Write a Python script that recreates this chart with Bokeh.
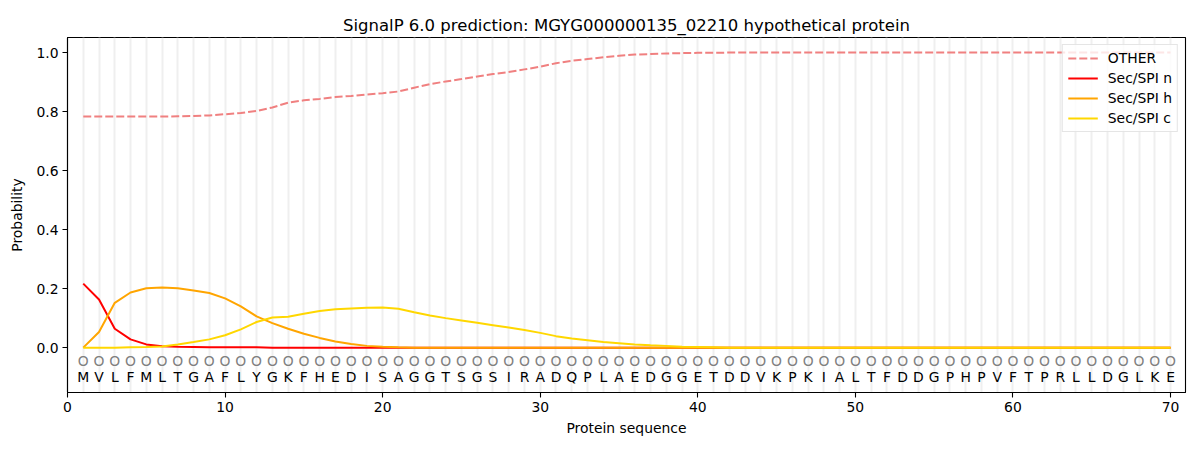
from bokeh.plotting import figure
from bokeh.models import FixedTicker, PrintfTickFormatter, ColumnDataSource, Range1d, Legend, LegendItem
from bokeh.core.properties import value
from bokeh.embed import file_html
from bokeh.resources import INLINE

sequence = list("MVLFMLTGAFLYGKFHEDISAGGTSGSIRADQPLAEDGGETDDVKPKIALTFDDGPHPVFTPRLLDGLKE")
positions = list(range(1, 71))

other = [0.783, 0.783, 0.783, 0.783, 0.783, 0.783, 0.784, 0.785, 0.787, 0.791,
         0.795, 0.802, 0.814, 0.830, 0.838, 0.843, 0.849, 0.853, 0.858, 0.862,
         0.868, 0.881, 0.893, 0.902, 0.910, 0.919, 0.927, 0.934, 0.943, 0.952,
         0.964, 0.972, 0.978, 0.984, 0.989, 0.993, 0.995, 0.997, 0.998, 0.999,
         0.999] + [1.0] * 29
sec_n = [0.217, 0.163, 0.064, 0.028, 0.011, 0.005, 0.003, 0.002, 0.001, 0.001,
         0.001, 0.001] + [0.0] * 58
sec_h = [0.0, 0.053, 0.152, 0.187, 0.201, 0.204, 0.201, 0.194, 0.185, 0.167,
         0.140, 0.106, 0.083, 0.064, 0.047, 0.033, 0.021, 0.012, 0.006, 0.003,
         0.001] + [0.0] * 49
sec_c = [0.0, 0.0, 0.0, 0.001, 0.002, 0.004, 0.011, 0.019, 0.028, 0.042,
         0.062, 0.087, 0.102, 0.105, 0.115, 0.124, 0.130, 0.133, 0.135, 0.136,
         0.132, 0.120, 0.109, 0.100, 0.092, 0.084, 0.076, 0.068, 0.060, 0.050,
         0.039, 0.031, 0.025, 0.019, 0.015, 0.011, 0.008, 0.006, 0.003, 0.002,
         0.001] + [0.0] * 29

title_text = "SignalP 6.0 prediction: MGYG000000135_02210 hypothetical protein"
x_ticks = [0, 10, 20, 30, 40, 50, 60, 70]
y_ticks = [0.0, 0.2, 0.4, 0.6, 0.8, 1.0]

FONT = "DejaVu Sans"

p = figure(width=1192, height=442, output_backend="svg", toolbar_location=None,
           x_range=Range1d(0, 70.95), y_range=Range1d(-0.152, 1.051),
           min_border_left=67, min_border_right=7, min_border_top=37, min_border_bottom=50)

p.title.text = title_text
p.title.align = "center"
p.title.text_font = FONT
p.title.text_font_size = "16.5px"
p.title.text_font_style = "normal"
p.title.text_color = "black"
p.title.standoff = 5

p.outline_line_color = "black"
p.outline_line_alpha = 1.0
p.outline_line_width = 1.1

p.ygrid.visible = False
p.xgrid.ticker = FixedTicker(ticks=positions)
p.xgrid.grid_line_color = "#efefef"
p.xgrid.grid_line_width = 2

for ax in (p.xaxis[0], p.yaxis[0]):
    ax.axis_line_color = "black"
    ax.axis_line_width = 1.1
    ax.major_tick_line_color = "black"
    ax.major_tick_line_width = 1.1
    ax.major_tick_in = 0
    ax.major_tick_out = 5
    ax.minor_tick_line_color = None
    ax.major_label_text_font = FONT
    ax.major_label_text_font_size = "13.9px"
    ax.major_label_text_color = "black"
    ax.axis_label_text_font = FONT
    ax.axis_label_text_font_size = "13.9px"
    ax.axis_label_text_font_style = "normal"
    ax.axis_label_text_color = "black"
    ax.major_label_standoff = 4

p.xaxis.ticker = FixedTicker(ticks=x_ticks)
p.xaxis.axis_label = "Protein sequence"
p.xaxis.axis_label_standoff = 5
p.yaxis.ticker = FixedTicker(ticks=y_ticks)
p.yaxis.formatter = PrintfTickFormatter(format="%.1f")
p.yaxis.axis_label = "Probability"
p.yaxis.axis_label_standoff = 8

src = ColumnDataSource(dict(x=positions, other=other, n=sec_n, h=sec_h, c=sec_c,
                            aa=sequence, o=["O"] * len(sequence),
                            oy=[-0.045] * len(sequence), ay=[-0.098] * len(sequence)))

r_other = p.line("x", "other", source=src, line_color="lightcoral", line_width=2, line_dash="8 3")
r_n = p.line("x", "n", source=src, line_color="red", line_width=2)
r_h = p.line("x", "h", source=src, line_color="orange", line_width=2)
r_c = p.line("x", "c", source=src, line_color="gold", line_width=2)

p.text("x", "oy", text="o", source=src, text_font=value(FONT), text_font_size="13.9px",
       text_color="grey", text_align="center", text_baseline="middle")
p.text("x", "ay", text="aa", source=src, text_font=value(FONT), text_font_size="13.9px",
       text_color="black", text_align="center", text_baseline="middle")

legend = Legend(items=[LegendItem(label="OTHER", renderers=[r_other]),
                       LegendItem(label="Sec/SPI n", renderers=[r_n]),
                       LegendItem(label="Sec/SPI h", renderers=[r_h]),
                       LegendItem(label="Sec/SPI c", renderers=[r_c])],
                location="top_right")
legend.margin = 7
legend.padding = 5
legend.spacing = 4
legend.glyph_width = 30
legend.glyph_height = 14
legend.label_height = 14
legend.label_standoff = 10
legend.label_text_font = FONT
legend.label_text_font_size = "13.9px"
legend.label_text_color = "black"
legend.border_line_color = "#cccccc"
legend.border_line_width = 1
legend.background_fill_color = "white"
legend.background_fill_alpha = 0.8
p.add_layout(legend)

open("out.html", "w").write(file_html(p, INLINE))
